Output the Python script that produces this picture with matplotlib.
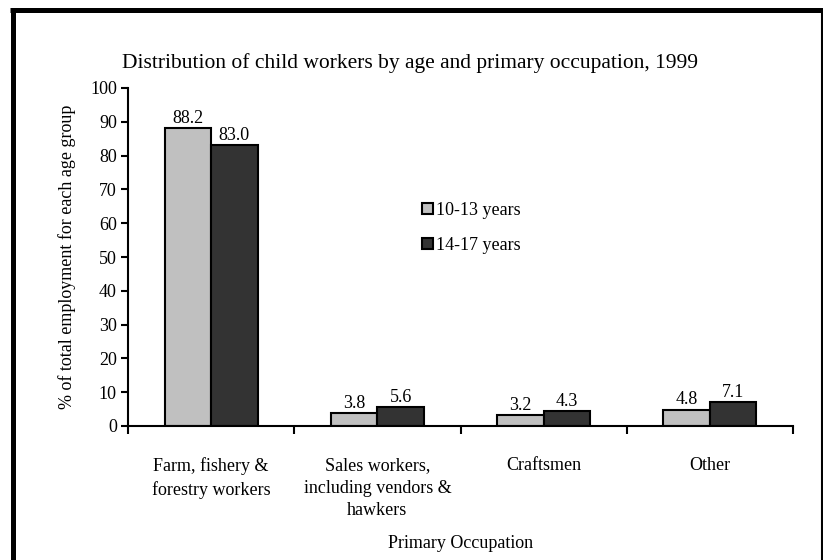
import matplotlib
matplotlib.use("Agg")
import matplotlib.pyplot as plt
from matplotlib.lines import Line2D
import numpy as np

categories = ["Farm, fishery &\nforestry workers",
              "Sales workers,\nincluding vendors &\nhawkers",
              "Craftsmen", "Other"]
series_names = ["10-13 years", "14-17 years"]
values_10_13 = [88.2, 3.8, 3.2, 4.8]
values_14_17 = [83.0, 5.6, 4.3, 7.1]
colors = ["#C0C0C0", "#333333"]

plt.rcParams['font.family'] = ['Liberation Serif', 'DejaVu Serif']

W, H = 823, 560
fs = 13
fig = plt.figure(figsize=(W/100, H/100), dpi=100)
ax = fig.add_axes([128/W, 1-426/H, (793-128)/W, (426-88)/H])

x = np.arange(len(categories))
bw = 0.28
for i, (vals, name, c) in enumerate(zip([values_10_13, values_14_17], series_names, colors)):
    pos = x + (i - 0.5) * bw
    ax.bar(pos, vals, width=bw, color=c, edgecolor='black', linewidth=1.5, label=name)
    for p, v in zip(pos, vals):
        ax.text(p, v + 0.4, f"{v:.1f}", ha='center', va='bottom', fontsize=fs)

ax.set_xlim(-0.5, len(categories) - 0.5)
ax.set_ylim(0, 100)
ax.set_yticks(range(0, 101, 10))
ax.set_xticks(np.arange(-0.5, len(categories), 1.0))
ax.set_xticklabels([])
ax.tick_params(axis='y', direction='out', length=5, width=1.5, labelsize=fs, pad=3)
ax.tick_params(axis='x', direction='out', length=6, width=1.5)
for lab, xi in zip(categories, x):
    ax.text(xi, -9.2, lab, ha='center', va='top', fontsize=fs, linespacing=1.42,
            transform=ax.transData)
for s in ['top', 'right']:
    ax.spines[s].set_visible(False)
for s in ['left', 'bottom']:
    ax.spines[s].set_linewidth(1.5)

ax.set_ylabel("% of total employment for each age group", fontsize=fs, labelpad=10)
fig.text(461/W, 1-543/H, "Primary Occupation", ha='center', va='center', fontsize=fs)
fig.text(410/W, 1-63/H, "Distribution of child workers by age and primary occupation, 1999",
         ha='center', va='center', fontsize=15.5)

leg = ax.legend(loc='upper left', bbox_to_anchor=(0.431, 0.685), frameon=False,
                handlelength=0.6, handleheight=0.6, handletextpad=0.2,
                labelspacing=1.0, fontsize=fs, borderaxespad=0)

# figure border
fig.add_artist(Line2D([12.5/W, 12.5/W], [0, 1-8/H], transform=fig.transFigure, color='black', lw=3.6, solid_capstyle='butt'))
fig.add_artist(Line2D([10/W, 1], [1-9.5/H, 1-9.5/H], transform=fig.transFigure, color='black', lw=3.6, solid_capstyle='butt'))
fig.add_artist(Line2D([822/W, 822/W], [0, 1-9/H], transform=fig.transFigure, color='black', lw=1.5, solid_capstyle='butt'))

fig.savefig("out.png", dpi=100)
